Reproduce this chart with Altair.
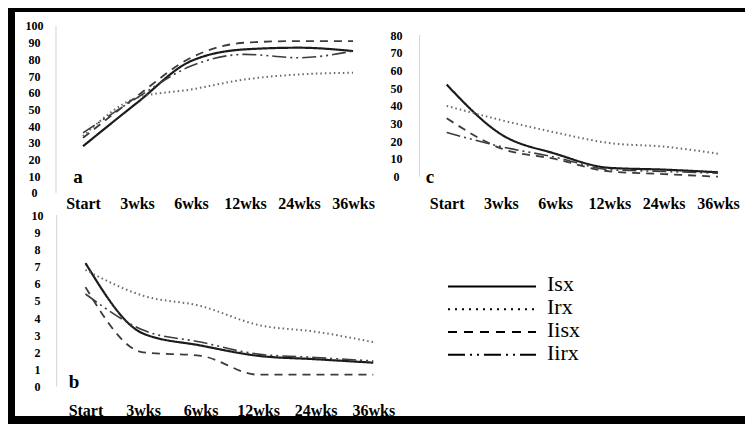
import json
import altair as alt
import pandas as pd

# ---------------- data ----------------
times = ["Start", "3wks", "6wks", "12wks", "24wks", "36wks"]
series = ["Isx", "Irx", "Iisx", "Iirx"]

# panel a
a_isx = [28, 54, 79, 86, 87, 85]
a_irx = [34, 57, 62, 68, 71, 72]
a_iisx = [33, 58, 81, 90, 91, 91]
a_iirx = [36, 57, 76, 83, 81, 85]

# panel c
c_isx = [52, 24, 13, 5, 4, 2.5]
c_irx = [40, 32, 25, 19, 17, 13]
c_iisx = [33, 16, 10, 3, 1.5, 0]
c_iirx = [25, 17, 11, 4, 3, 2]

# panel b
b_isx = [7.2, 3.1, 2.4, 1.8, 1.6, 1.4]
b_irx = [6.8, 5.3, 4.7, 3.6, 3.2, 2.6]
b_iisx = [5.8, 2.0, 1.8, 0.7, 0.7, 0.7]
b_iirx = [5.4, 3.3, 2.6, 1.9, 1.7, 1.5]

a_ticks = [0, 10, 20, 30, 40, 50, 60, 70, 80, 90, 100]
c_ticks = [0, 10, 20, 30, 40, 50, 60, 70, 80]
b_ticks = [0, 1, 2, 3, 4, 5, 6, 7, 8, 9, 10]
panel_letters = ["a", "b", "c"]

# ---------------- styles ----------------
dash_styles = [[1, 0], [1.5, 3], [8, 6], [14, 4, 2, 4, 2, 4]]
legend_dashes = [[1, 0], [2, 5], [9, 7], [17, 5, 2, 5, 2, 5]]
line_colors = ["#1c1c1c", "#6a6a6a", "#3c3c3c", "#3c3c3c"]
line_widths = [2.2, 1.6, 2.2, 2.2]
FONT = "Liberation Serif"
label_expr = json.dumps(times) + "[datum.value]"


def to_long(cols):
    rows = []
    for s, vals in zip(series, cols):
        for i, v in enumerate(vals):
            rows.append({"t": i, "time": times[i], "series": s, "value": v})
    return pd.DataFrame(rows)


def panel(df, yticks, ydom, xdom, width, height, yoff, xoff, letter, lpos, backdrop=None):
    x = alt.X(
        "t:Q",
        scale=alt.Scale(domain=xdom, nice=False, zero=False),
        axis=alt.Axis(
            values=list(range(len(times))), labelExpr=label_expr, title=None,
            grid=False, domain=False, ticks=False, tickSize=0, labelPadding=0,
            offset=xoff, labelFont=FONT, labelFontSize=16, labelFontWeight="bold",
            labelColor="black", labelBaseline="middle", labelFlush=False,
            labelOverlap=False, zindex=1,
        ),
    )
    y = alt.Y(
        "value:Q",
        scale=alt.Scale(domain=ydom, nice=False, zero=False),
        axis=alt.Axis(
            values=yticks, tickCount=len(yticks), format="d", title=None, grid=False,
            domain=False, ticks=False, tickSize=0, labelPadding=0, offset=yoff,
            labelAlign="center", labelFont=FONT, labelFontSize=12,
            labelFontWeight="bold", labelColor="black", labelOverlap=False, zindex=1,
        ),
    )
    lines = alt.Chart(df).mark_line(interpolate="monotone", strokeCap="butt").encode(
        x=x,
        y=y,
        strokeDash=alt.StrokeDash(
            "series:N", scale=alt.Scale(domain=series, range=dash_styles), legend=None
        ),
        color=alt.Color(
            "series:N", scale=alt.Scale(domain=series, range=line_colors), legend=None
        ),
        strokeWidth=alt.StrokeWidth(
            "series:N", scale=alt.Scale(domain=series, range=line_widths), legend=None
        ),
    )
    edge = alt.Chart(pd.DataFrame({"edge": [0]})).mark_rule(
        color="#d4d4d4", strokeWidth=1
    ).encode(x=alt.datum(-0.5), y=alt.datum(yticks[0]), y2=alt.datum(yticks[-1]))
    txt = alt.Chart(pd.DataFrame({"letter": [letter]})).mark_text(
        font=FONT, fontSize=19, fontWeight="bold", color="black",
        align="center", baseline="middle",
    ).encode(text="letter:N", x=alt.value(lpos[0]), y=alt.value(lpos[1]))
    layers = [lines, edge, txt]
    if backdrop is not None:
        # white paper behind the bottom row (spans the legend cell too)
        bg = alt.Chart(pd.DataFrame({"bg": [0]})).mark_rect(color="white").encode(
            x=alt.value(0), x2=alt.value(backdrop), y=alt.value(0), y2=alt.value(height)
        )
        layers = [bg] + layers
    return alt.layer(*layers).properties(width=width, height=height)


pa = panel(to_long([a_isx, a_irx, a_iisx, a_iirx]), a_ticks, [-11.38, 108.38],
           [-1.259, 5.407], 360, 200, -19, -9, panel_letters[0], (63, 165))
pc = panel(to_long([c_isx, c_irx, c_iisx, c_iirx]), c_ticks, [-19.93, 93.0],
           [-1.321, 5.498], 370, 200, -21, -9, panel_letters[2], (55, 165))
pb = panel(to_long([b_isx, b_irx, b_iisx, b_iirx]), b_ticks, [-1.706, 10.175],
           [-1.224, 5.03], 360, 204, -22, -6, panel_letters[1], (59, 170), backdrop=730)

# ---------------- legend panel ----------------
legend_df = pd.DataFrame({"series": series})
ly = alt.Y("series:N", scale=alt.Scale(domain=series, range=[63, 154]), axis=None)
leg_lines = alt.Chart(legend_df).mark_rule(color="black", strokeWidth=2, strokeCap="butt").encode(
    y=ly,
    x=alt.value(73),
    x2=alt.value(161),
    strokeDash=alt.StrokeDash(
        "series:N", scale=alt.Scale(domain=series, range=legend_dashes), legend=None
    ),
)
leg_text = alt.Chart(legend_df).mark_text(
    font=FONT, fontSize=22, color="black", align="left", baseline="middle", dy=-2
).encode(y=ly, x=alt.value(172), text="series:N")
pl = alt.layer(leg_lines, leg_text).properties(
    width=370, height=204,
    view=alt.ViewBackground(fill="white", fillOpacity=0, strokeWidth=0),
)

chart = (
    alt.concat(pa, pc, pb, pl, columns=2, spacing=0, bounds="flush")
    .resolve_scale(strokeDash="independent", color="independent", strokeWidth="independent")
    .properties(background="black", padding={"left": 7, "top": 4, "right": 0, "bottom": 6})
    .configure_view(fill="white", strokeWidth=0)
    .configure_concat(spacing=0)
)

chart.save("out.html", embed_options={"renderer": "svg", "actions": False})
